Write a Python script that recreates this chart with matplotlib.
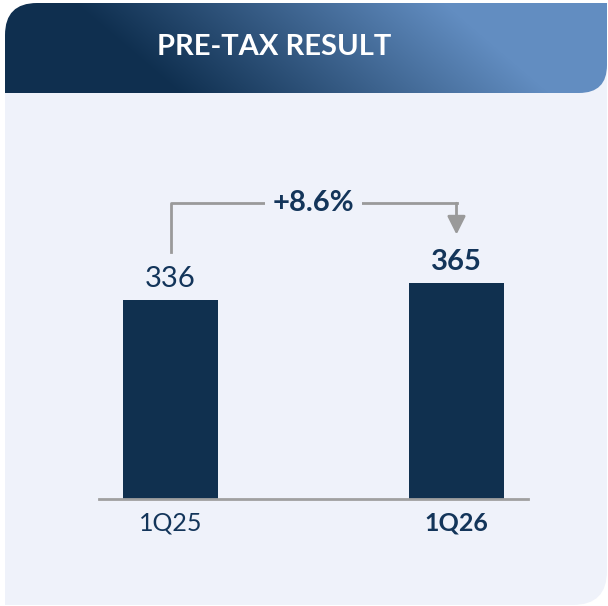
import numpy as np
import matplotlib
matplotlib.use("Agg")
import matplotlib.pyplot as plt
from matplotlib.path import Path
from matplotlib.patches import PathPatch
from matplotlib.colors import to_rgb

plt.rcParams["font.family"] = ["Lato", "DejaVu Sans"]

periodos = ["1Q25", "1Q26"]
resultado = [336, 365]
titulo = "PRE-TAX RESULT"

navy = "#10304f"
texto = "#13355a"
gris = "#9a9a9a"
fondo_panel = "#eff2fa"
header_oscuro = "#0f2f4f"
header_claro = "#628dc1"

W, H = 608, 606
fig = plt.figure(figsize=(W / 100, H / 100), dpi=100)
fig.patch.set_facecolor("white")

# fondo: panel claro + cabecera con degradado
bg = fig.add_axes([0, 0, 1, 1])
bg.set_xlim(0, W)
bg.set_ylim(H, 0)
bg.axis("off")


def caja(x0, y0, x1, y1, r_tl=0, r_tr=0, r_br=0, r_bl=0):
    verts = [(x0 + r_tl, y0), (x1 - r_tr, y0)]
    codes = [Path.MOVETO, Path.LINETO]
    if r_tr:
        verts += [(x1, y0), (x1, y0 + r_tr)]
        codes += [Path.CURVE3] * 2
    verts.append((x1, y1 - r_br))
    codes.append(Path.LINETO)
    if r_br:
        verts += [(x1, y1), (x1 - r_br, y1)]
        codes += [Path.CURVE3] * 2
    verts.append((x0 + r_bl, y1))
    codes.append(Path.LINETO)
    if r_bl:
        verts += [(x0, y1), (x0, y1 - r_bl)]
        codes += [Path.CURVE3] * 2
    verts.append((x0, y0 + r_tl))
    codes.append(Path.LINETO)
    if r_tl:
        verts += [(x0, y0), (x0 + r_tl, y0)]
        codes += [Path.CURVE3] * 2
    verts.append((x0, y0))
    codes.append(Path.CLOSEPOLY)
    return Path(verts, codes)


panel = PathPatch(caja(5, 40, 607, 605, r_br=34), fc=fondo_panel, ec="none", zorder=1)
bg.add_patch(panel)

cabecera = PathPatch(caja(5, 3, 607, 93, r_tl=32, r_br=28), fc="none", ec="none")
bg.add_patch(cabecera)

xx, yy = np.meshgrid(np.arange(W) + 0.5, np.arange(96) + 0.5)
t = np.clip((xx - 1.17 * yy - 70) / 370, 0, 1)[..., None]
c0 = np.array(to_rgb(header_oscuro))
c1 = np.array(to_rgb(header_claro))
img = c0 * (1 - t) + c1 * t
im = bg.imshow(img, extent=(0, W, 96, 0), origin="upper", aspect="auto", zorder=2)
im.set_clip_path(cabecera)
bg.set_xlim(0, W)
bg.set_ylim(H, 0)

bg.text(274, 47, titulo, color="white", fontsize=21, fontweight="bold",
        ha="center", va="center", zorder=3)

# grafico de barras
ax = fig.add_axes([99 / W, (H - 499) / H, 429 / W, 349 / H])
ax.set_facecolor("none")
x = np.arange(len(periodos))
ax.bar(x, resultado, width=0.332, color=navy, zorder=2)
ax.set_xlim(-0.25, 1.25)
ax.set_ylim(0, 590)

for s in ["top", "left", "right"]:
    ax.spines[s].set_visible(False)
ax.spines["bottom"].set_color("#a0a0a0")
ax.spines["bottom"].set_linewidth(2)
ax.set_yticks([])
ax.set_xticks(x, periodos)
ax.tick_params(axis="x", length=0, pad=9, labelsize=18, labelcolor=texto)
ax.get_xticklabels()[-1].set_fontweight("bold")

for i, v in enumerate(resultado):
    ax.annotate(str(v), (i, v), xytext=(0, 21), textcoords="offset pixels",
                ha="center", va="center", fontsize=21, color=texto,
                fontweight="bold" if i == len(resultado) - 1 else "normal")

# flecha de variacion
tope = 500
cambio = (resultado[1] / resultado[0] - 1) * 100
ax.plot([0, 0, 1], [resultado[0] + 82, tope, tope], color=gris, lw=2,
        solid_joinstyle="round", zorder=1)
ax.annotate("", xy=(1, resultado[1] + 82), xytext=(1, tope),
            arrowprops=dict(arrowstyle="-|>,head_length=1.1,head_width=0.55",
                            color=gris, lw=2, shrinkA=0, shrinkB=0))
ax.text(0.5, tope, f"+{cambio:.1f}%", ha="center", va="center", fontsize=21,
        fontweight="bold", color=texto, zorder=3,
        bbox=dict(boxstyle="square,pad=0.25", fc=fondo_panel, ec="none"))

fig.savefig("out.png", dpi=100, facecolor="white")
